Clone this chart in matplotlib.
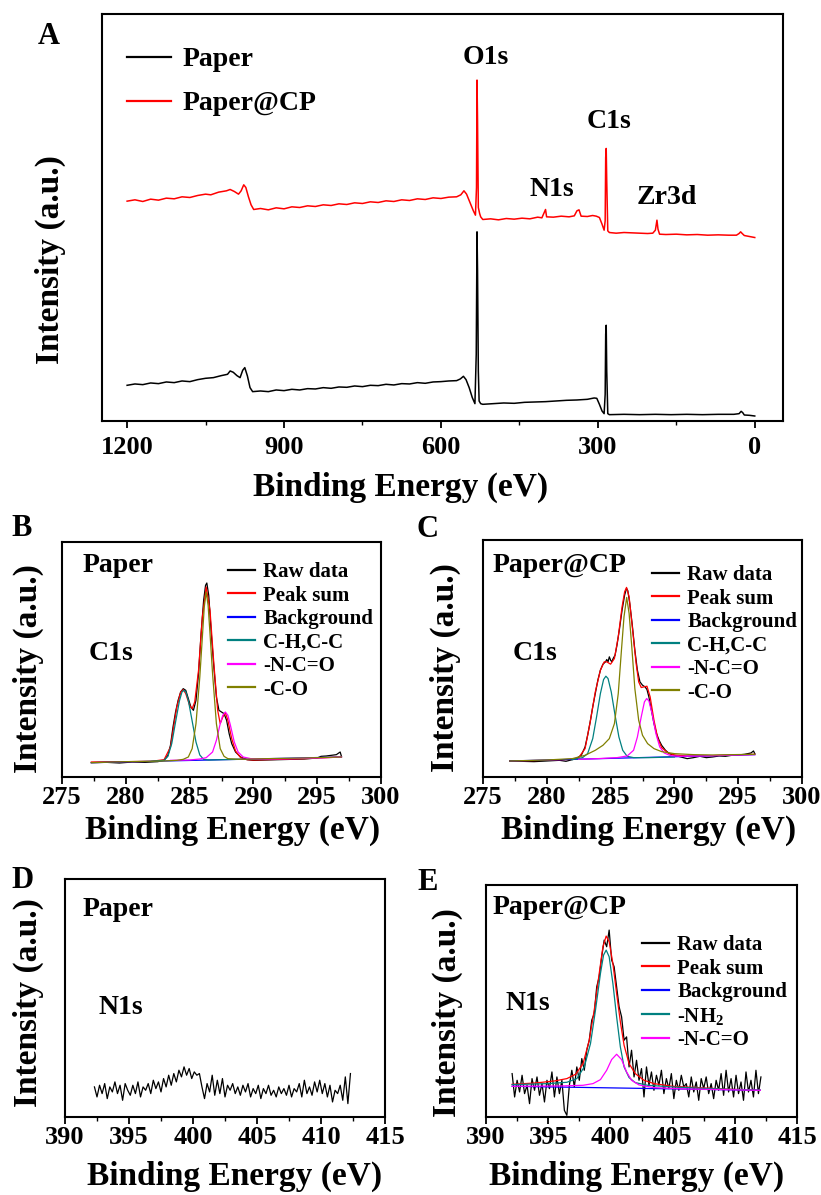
import numpy as np
import matplotlib.pyplot as plt

plt.rcParams['font.family'] = ['Liberation Serif', 'DejaVu Serif']
plt.rcParams['font.weight'] = 'bold'
plt.rcParams['mathtext.fontset'] = 'custom'
plt.rcParams['mathtext.rm'] = 'Liberation Serif:bold'
plt.rcParams['mathtext.bf'] = 'Liberation Serif:bold'
plt.rcParams['mathtext.it'] = 'Liberation Serif:bold'

# ---------------- panel A : survey spectra ----------------
a_cp_energy = [1200, 1185, 1170, 1155, 1140, 1125, 1110, 1095, 1080, 1065, 1050, 1040, 1025, 1010,
               1003, 995, 987, 982, 977, 973, 968, 963, 958, 945, 930, 915, 900, 885, 870, 855,
               840, 825, 810, 795, 780, 765, 750, 735, 720, 705, 690, 675, 660, 645, 630, 615,
               600, 585, 570, 562, 556, 551, 545, 538, 534, 532, 531, 530, 528.5, 526, 524, 520,
               505, 490, 475, 460, 445, 430, 415, 407, 400, 398, 385, 370, 355, 345, 340, 336,
               332, 320, 310, 303, 297, 292, 288, 286, 285, 284, 283, 281, 278, 265, 250, 235,
               220, 205, 195, 190, 187, 185, 182, 170, 150, 130, 110, 90, 70, 50, 35, 30, 27,
               24, 20, 10, 0]
a_cp_counts = [659, 663, 658, 665, 662, 668, 666, 672, 670, 676, 680, 678, 686, 690,
               694, 688, 680, 690, 708, 700, 672, 648, 634, 637, 633, 639, 636, 642, 640, 645,
               643, 648, 646, 651, 649, 654, 652, 657, 655, 660, 658, 663, 661, 666, 664, 669,
               667, 671, 672, 678, 690, 680, 657, 630, 617, 700, 1022, 900, 640, 622, 612, 604,
               606, 603, 607, 605, 608, 606, 611, 609, 634, 612, 611, 614, 612, 615, 630, 633,
               614, 613, 616, 614, 610, 590, 572, 600, 790, 817, 720, 570, 565, 563, 565, 564,
               563, 562, 563, 572, 602, 575, 560, 559, 560, 558, 559, 557, 558, 557, 557, 562, 567,
               562, 556, 553, 550]

a_paper_energy = [1200, 1185, 1170, 1155, 1140, 1125, 1110, 1095, 1080, 1065, 1050, 1035, 1020,
                  1008, 1003, 997, 990, 984, 979, 975, 970, 965, 960, 945, 930, 915, 900, 885,
                  870, 855, 840, 825, 810, 795, 780, 765, 750, 735, 720, 705, 690, 675, 660,
                  645, 630, 615, 600, 585, 570, 563, 557, 552, 546, 540, 535, 532.5, 531,
                  530, 528.5, 527, 524, 520, 500, 480, 460, 440, 420, 400, 380, 360, 340, 320,
                  307, 302, 297, 292, 288, 286, 285, 284, 283, 281, 278, 250, 220, 190, 160,
                  130, 100, 70, 40, 30, 26, 23, 20, 10, 0]
a_paper_counts = [107, 111, 109, 114, 112, 117, 115, 120, 118, 124, 128, 130, 136,
                  140, 150, 146, 136, 130, 152, 160, 135, 100, 88, 90, 88, 93, 91, 95,
                  93, 97, 96, 100, 98, 102, 101, 105, 103, 107, 106, 110, 108, 112, 111,
                  115, 113, 117, 118, 120, 121, 126, 134, 124, 100, 70, 52, 200, 567,
                  450, 150, 60, 52, 50, 52, 54, 53, 56, 57, 58, 60, 62, 63, 65,
                  69, 68, 50, 30, 22, 80, 260, 287, 150, 22, 19, 20, 19, 20, 19,
                  20, 19, 20, 20, 22, 29, 25, 18, 17, 15]

a_peaks = ['O1s', 'N1s', 'C1s', 'Zr3d']

# ---------------- panel B : C1s, Paper ----------------
b_raw_e = [277.3, 278.5, 279.5, 280.5, 281.5, 282.5, 283.0, 283.3, 283.5, 283.7, 283.9, 284.1,
           284.3, 284.5, 284.7, 284.9, 285.1, 285.3, 285.5, 285.7, 285.9, 286.1, 286.25, 286.35,
           286.5, 286.7, 286.9, 287.1, 287.3, 287.5, 287.7, 287.9, 288.1, 288.3, 288.6, 289.0,
           289.5, 290.0, 291.0, 292.0, 293.0, 294.0, 295.0, 295.3, 295.7, 296.1, 296.5, 296.8, 296.9]
b_raw_i = [43, 44, 42, 45, 44, 46, 50, 65, 95, 150, 195, 230,
           255, 265, 260, 235, 210, 200, 230, 310, 430, 530, 575, 582,
           545, 430, 330, 240, 200, 195, 190, 170, 130, 100, 75, 60,
           52, 50, 51, 52, 53, 54, 57, 62, 63, 65, 67, 75, 62]
b_sum_e = [277.3, 280.0, 282.0, 283.0, 283.5, 284.0, 284.3, 284.5, 284.7, 285.0, 285.2, 285.4,
           285.7, 286.0, 286.3, 286.6, 286.9, 287.2, 287.4, 287.6, 287.8, 288.0, 288.3, 288.6,
           289.0, 289.5, 290.0, 292.0, 294.0, 296.9]
b_sum_i = [45, 46, 47, 52, 90, 210, 255, 262, 250, 215, 205, 225,
           320, 480, 570, 500, 340, 200, 160, 180, 193, 170, 115, 78,
           58, 52, 51, 53, 55, 60]
b_bg_e = [277.3, 296.9]
b_bg_i = [43, 60]
b_ch_e = [282.0, 283.0, 283.3, 283.6, 283.9, 284.2, 284.4, 284.55, 284.7, 284.9, 285.2, 285.5,
          285.8, 286.1, 286.5, 287.5, 289.0]
b_ch_i = [47, 50, 62, 100, 165, 228, 255, 260, 256, 230, 168, 105, 66, 53, 51, 52, 53]
b_nco_e = [283.5, 285.0, 285.8, 286.3, 286.8, 287.1, 287.4, 287.6, 287.8, 288.0, 288.2, 288.5,
           288.8, 289.2, 289.8, 291.0, 293.0, 295.0, 296.9]
b_nco_i = [50, 51, 54, 58, 75, 110, 160, 185, 195, 185, 155, 105, 75, 60, 55, 54, 55, 57, 60]
b_co_e = [277.3, 280.0, 283.0, 284.0, 284.5, 284.9, 285.2, 285.5, 285.8, 286.0, 286.15, 286.3,
          286.45, 286.6, 286.8, 287.1, 287.4, 287.7, 288.0, 289.0, 291.0, 294.0, 296.9]
b_co_i = [43, 46, 48, 50, 53, 60, 85, 160, 300, 420, 510, 555,
          515, 430, 310, 160, 85, 62, 55, 53, 55, 57, 60]

# ---------------- panel C : C1s, Paper@CP ----------------
c_raw_e = [277.1, 278.0, 279.0, 280.0, 281.0, 281.5, 282.0, 282.3, 282.7, 283.0, 283.2, 283.4,
           283.6, 283.8, 284.0, 284.2, 284.4, 284.6, 284.7, 284.8, 284.9, 285.0, 285.1, 285.2,
           285.35, 285.5, 285.7, 285.9, 286.1, 286.25, 286.35, 286.5, 286.7, 286.9, 287.1, 287.3,
           287.5, 287.7, 287.85, 288.0, 288.2, 288.4, 288.6, 288.8, 289.0, 289.3, 289.6, 290.0,
           290.5, 291.0, 291.5, 292.0, 292.5, 293.0, 293.5, 294.0, 294.5, 295.0, 295.5, 296.0,
           296.2, 296.3]
c_raw_i = [48, 47, 46, 48, 50, 47, 52, 55, 65, 90, 125, 165,
           210, 250, 290, 320, 338, 345, 352, 345, 360, 350, 345, 355,
           365, 395, 445, 500, 545, 565, 558, 520, 455, 380, 320, 285,
           275, 270, 262, 240, 200, 160, 130, 110, 95, 80, 70, 65,
           60, 55, 58, 62, 58, 60, 63, 62, 65, 66, 68, 72,
           78, 70]
c_sum_e = [277.1, 280.0, 282.0, 282.5, 283.0, 283.4, 283.8, 284.2, 284.5, 284.7, 285.0, 285.3,
           285.6, 285.9, 286.1, 286.25, 286.45, 286.7, 287.0, 287.2, 287.4, 287.6, 287.85, 288.1,
           288.4, 288.7, 289.0, 289.5, 290.0, 291.0, 293.0, 296.3]
c_sum_i = [48, 50, 53, 58, 85, 165, 255, 320, 345, 345, 338, 355,
           420, 510, 555, 568, 540, 450, 340, 285, 268, 270, 272, 240,
           170, 115, 88, 72, 66, 63, 64, 68]
c_bg_e = [277.1, 296.3]
c_bg_i = [48, 67]
c_ch_e = [282.0, 282.8, 283.2, 283.6, 283.9, 284.2, 284.45, 284.63, 284.8, 285.05, 285.35, 285.65,
          285.95, 286.3, 286.8, 288.0, 290.0]
c_ch_i = [52, 58, 70, 115, 180, 250, 292, 302, 295, 255, 185, 120, 80, 62, 58, 58, 60]
c_nco_e = [282.5, 284.0, 285.5, 286.3, 286.8, 287.1, 287.4, 287.65, 287.83, 288.0, 288.25, 288.55,
           288.85, 289.2, 289.7, 290.5, 292.0, 294.0, 296.3]
c_nco_i = [53, 55, 58, 63, 80, 120, 180, 225, 235, 228, 190, 130, 90, 72, 64, 62, 63, 65, 67]
c_co_e = [277.1, 280.0, 282.0, 283.0, 283.8, 284.4, 284.9, 285.3, 285.6, 285.85, 286.05, 286.26,
          286.45, 286.65, 286.9, 287.2, 287.5, 287.9, 288.4, 289.0, 290.0, 291.5, 293.0, 296.3]
c_co_i = [48, 51, 55, 65, 80, 95, 115, 160, 250, 380, 480, 538,
          490, 395, 265, 170, 125, 100, 85, 76, 70, 67, 66, 68]

# ---------------- panel D : N1s, Paper (raw scan, 0.2 eV steps) ----------------
d_raw_i = [90, 60, 95, 70, 100, 55, 90, 75, 105, 70, 95, 50, 100, 80, 65, 95, 70, 105, 60, 90,
           80, 100, 70, 110, 85, 105, 75, 115, 90, 125, 95, 130, 105, 140, 120, 150, 125, 145, 115, 135,
           125, 130, 90, 55, 100, 75, 125, 65, 110, 70, 115, 60, 95, 80, 100, 70, 90, 65, 95, 75,
           100, 60, 85, 70, 95, 55, 85, 70, 95, 65, 80, 60, 90, 70, 85, 65, 95, 60, 85, 75,
           100, 60, 110, 70, 90, 65, 105, 75, 110, 70, 100, 60, 95, 45, 80, 70, 95, 50, 120, 40,
           130]
d_raw_e = np.linspace(392.3, 412.3, len(d_raw_i))

# ---------------- panel E : N1s, Paper@CP ----------------
e_raw_i = [130, 60, 110, 75, 125, 70, 95, 40, 115, 80, 120, 65, 100, 45, 110, 85, 135, 60, 120, 70,
           110, 20, 5, 95, 140, 90, 150, 110, 175, 140, 200, 230, 290, 310, 390, 420, 480, 530, 510, 560,
           470, 450, 390, 330, 300, 230, 240, 150, 200, 120, 170, 110, 145, 60, 150, 95, 135, 80, 125, 95,
           140, 70, 115, 85, 130, 55, 110, 80, 125, 90, 100, 60, 120, 75, 105, 50, 115, 85, 120, 70,
           100, 55, 110, 80, 130, 65, 140, 75, 115, 60, 125, 70, 105, 50, 135, 75, 110, 60, 140, 70,
           120]
e_raw_e = np.linspace(392.1, 412.1, len(e_raw_i))
e_sum_e = [392.1, 394.0, 395.5, 396.5, 397.2, 397.8, 398.3, 398.7, 399.1, 399.4, 399.66, 399.9,
           400.2, 400.5, 400.8, 401.1, 401.5, 402.0, 402.7, 403.5, 405.0, 407.0, 409.0, 412.05]
e_sum_i = [98, 102, 108, 115, 128, 160, 230, 320, 430, 510, 542, 525,
           460, 370, 285, 215, 160, 130, 110, 100, 92, 88, 84, 80]
e_bg_e = [392.1, 412.05]
e_bg_i = [92, 80]
e_nh2_e = [392.1, 395.0, 396.5, 397.3, 397.9, 398.4, 398.8, 399.2, 399.45, 399.66, 399.9, 400.2,
           400.5, 400.8, 401.1, 401.5, 402.0, 403.0, 405.0, 408.0, 412.05]
e_nh2_i = [97, 100, 104, 115, 150, 220, 320, 430, 485, 500, 480, 400,
           300, 210, 150, 118, 103, 95, 90, 85, 80]
e_nco_e = [392.1, 396.0, 397.8, 398.6, 399.2, 399.7, 400.1, 400.5, 400.9, 401.3, 401.7, 402.3,
           403.5, 406.0, 409.0, 412.05]
e_nco_i = [92, 93, 95, 100, 112, 140, 172, 188, 172, 135, 110, 96, 88, 84, 82, 80]

fit_labels = ['Raw data', 'Peak sum', 'Background', 'C-H,C-C', '-N-C=O', '-C-O']
n_labels = ['Raw data', 'Peak sum', 'Background', '-NH$_2$', '-N-C=O']

# ---------------- layout ----------------
W, H = 821, 1195
fig = plt.figure(figsize=(W / 100, H / 100), dpi=100)


def box(l, t, r, b):
    return [l / W, 1 - b / H, (r - l) / W, (b - t) / H]


def put(x, y, s, size, ha='left', rot=0):
    fig.text(x / W, 1 - y / H, s, fontsize=size, fontweight='bold',
             ha=ha, va='center', rotation=rot)


def frame(ax, xlim, ylim, major, minor, pad):
    ax.set_xlim(*xlim)
    ax.set_ylim(*ylim)
    ax.set_xticks(major)
    ax.set_xticks(minor, minor=True)
    ax.set_yticks([])
    ax.tick_params(axis='x', which='major', direction='out', length=5, width=1.3,
                   labelsize=19, pad=pad)
    ax.tick_params(axis='x', which='minor', direction='out', length=3, width=1.0)
    for s in ax.spines.values():
        s.set_linewidth(1.5)


def legend(ax, x, y, size, hl, sp):
    leg = ax.legend(loc='upper left', bbox_to_anchor=(x / W, 1 - y / H),
                    bbox_transform=fig.transFigure, frameon=False, fontsize=size,
                    handlelength=hl, handletextpad=0.4, labelspacing=sp,
                    borderpad=0, borderaxespad=0)
    for h in leg.get_lines():
        h.set_linewidth(1.6)
    return leg


lw = 0.9

# A
axA = fig.add_axes(box(102, 14, 783, 421))
axA.plot(a_paper_energy, a_paper_counts, color='black', lw=1.1, label='Paper')
axA.plot(a_cp_energy, a_cp_counts, color='red', lw=1.1, label='Paper@CP')
frame(axA, (1248, -54), (0, 1220), [1200, 900, 600, 300, 0], [1050, 750, 450, 150], 6)
legend(axA, 127, 47, 20, 1.6, 0.67)
put(49, 37, 'A', 22, ha='center')
put(486, 57, a_peaks[0], 20, ha='center')
put(552, 190, a_peaks[1], 20, ha='center')
put(609, 122, a_peaks[2], 20, ha='center')
put(667, 198, a_peaks[3], 20, ha='center')
put(50, 260, 'Intensity (a.u.)', 24, ha='center', rot=90)
put(401, 487, 'Binding Energy (eV)', 24, ha='center')


def c1s_panel(rect, raw, fit, bg, ch, nco, co, ylim, leg_xy):
    ax = fig.add_axes(rect)
    ax.plot(*raw, color='black', lw=lw)
    ax.plot(*fit, color='red', lw=lw)
    ax.plot(*bg, color='blue', lw=lw)
    ax.plot(*ch, color='#008080', lw=lw)
    ax.plot(*nco, color='magenta', lw=lw)
    ax.plot(*co, color='#808000', lw=lw)
    for line, lab in zip(ax.lines, fit_labels):
        line.set_label(lab)
    frame(ax, (275, 300), ylim, [275, 280, 285, 290, 295, 300],
          [277.5, 282.5, 287.5, 292.5, 297.5], 1.5)
    legend(ax, leg_xy[0], leg_xy[1], 15, 1.3, 0.17)
    return ax


# B
c1s_panel(box(62, 542, 381, 777), (b_raw_e, b_raw_i), (b_sum_e, b_sum_i), (b_bg_e, b_bg_i),
          (b_ch_e, b_ch_i), (b_nco_e, b_nco_i), (b_co_e, b_co_i), (0, 705), (228, 562))
put(22, 528, 'B', 22, ha='center')
put(83, 565, 'Paper', 20)
put(89, 654, 'C1s', 20)
put(28, 669, 'Intensity (a.u.)', 24, ha='center', rot=90)
put(233, 830, 'Binding Energy (eV)', 24, ha='center')

# C
c1s_panel(box(483, 540, 802, 777), (c_raw_e, c_raw_i), (c_sum_e, c_sum_i), (c_bg_e, c_bg_i),
          (c_ch_e, c_ch_i), (c_nco_e, c_nco_i), (c_co_e, c_co_i), (0, 710), (652, 565))
put(427, 530, 'C', 22, ha='center')
put(493, 565, 'Paper@CP', 20)
put(513, 654, 'C1s', 20)
put(445, 668, 'Intensity (a.u.)', 24, ha='center', rot=90)
put(649, 830, 'Binding Energy (eV)', 24, ha='center')

n_major = [390, 395, 400, 405, 410, 415]
n_minor = [392.5, 397.5, 402.5, 407.5, 412.5]

# D
axD = fig.add_axes(box(65, 879, 385, 1117))
axD.plot(d_raw_e, d_raw_i, color='black', lw=lw)
frame(axD, (390, 415), (0, 712), n_major, n_minor, 1.5)
put(22, 880, 'D', 22, ha='center')
put(83, 909, 'Paper', 20)
put(98, 1007, 'N1s', 20)
put(28, 1003, 'Intensity (a.u.)', 24, ha='center', rot=90)
put(235, 1176, 'Binding Energy (eV)', 24, ha='center')

# E
axE = fig.add_axes(box(486, 885, 797, 1117))
axE.plot(e_raw_e, e_raw_i, color='black', lw=lw)
axE.plot(e_sum_e, e_sum_i, color='red', lw=lw)
axE.plot(e_bg_e, e_bg_i, color='blue', lw=lw)
axE.plot(e_nh2_e, e_nh2_i, color='#008080', lw=lw)
axE.plot(e_nco_e, e_nco_i, color='magenta', lw=lw)
for line, lab in zip(axE.lines, n_labels):
    line.set_label(lab)
frame(axE, (390, 415), (0, 695), n_major, n_minor, 1.5)
legend(axE, 642, 935, 15, 1.3, 0.17)
put(428, 882, 'E', 22, ha='center')
put(493, 908, 'Paper@CP', 20)
put(505, 1004, 'N1s', 20)
put(447, 1013, 'Intensity (a.u.)', 24, ha='center', rot=90)
put(637, 1176, 'Binding Energy (eV)', 24, ha='center')

fig.savefig('out.png', dpi=100)
